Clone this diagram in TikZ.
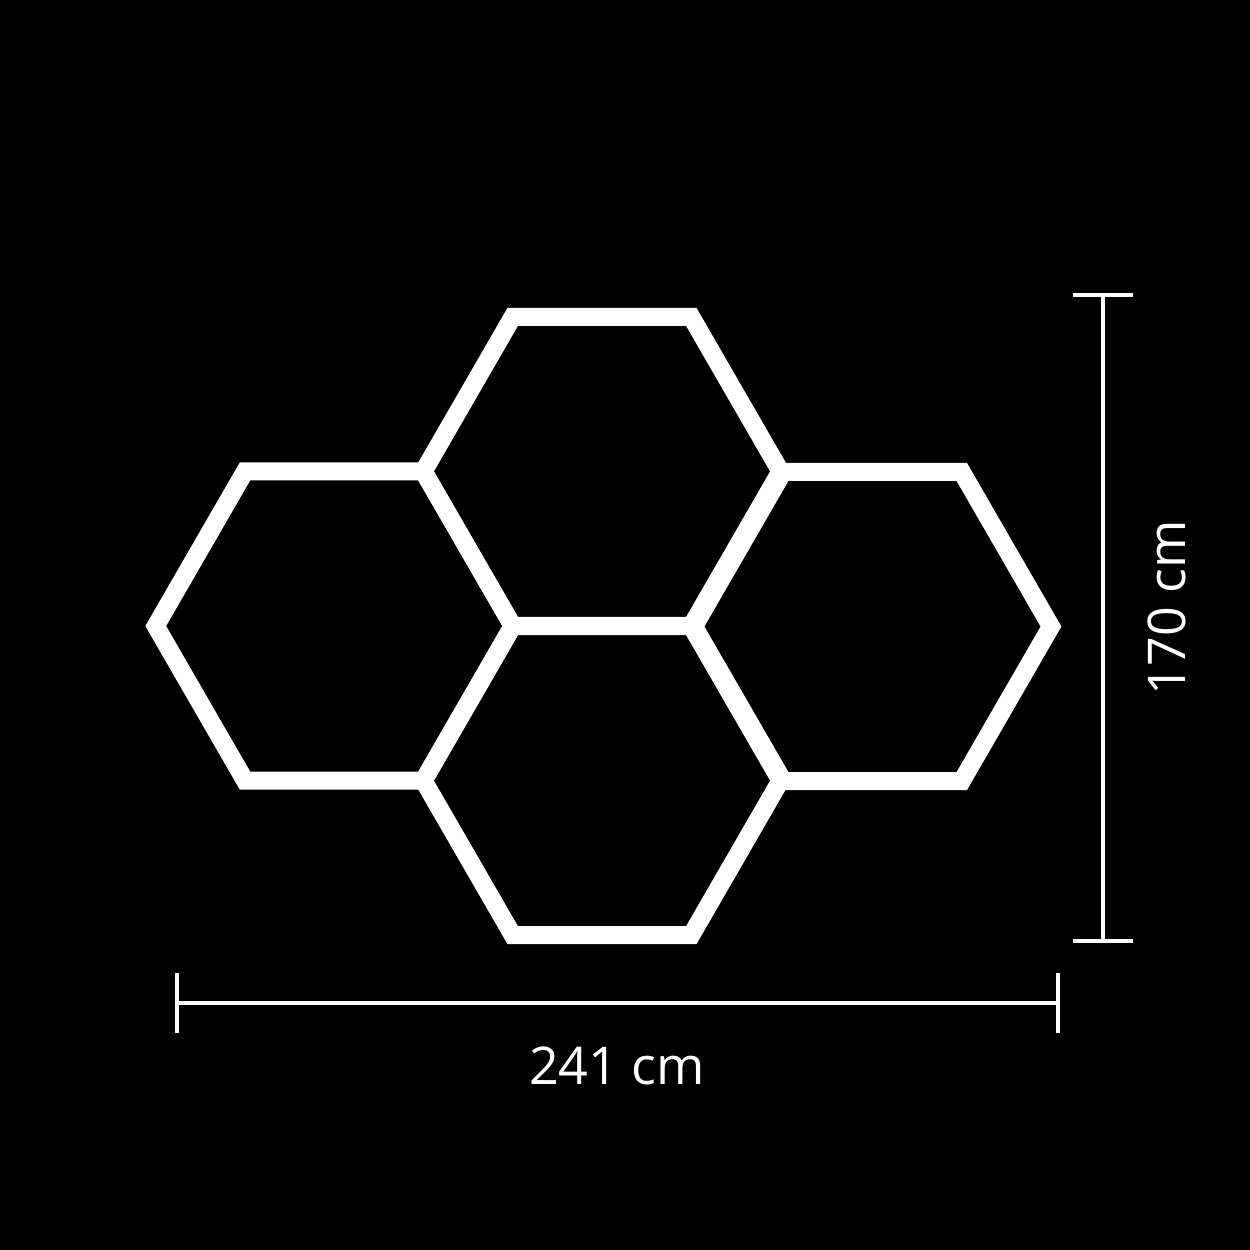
\documentclass[tikz,border=0pt]{standalone}
\usepackage{fontspec}
\setmainfont{Open Sans}
\begin{document}
\begin{tikzpicture}[x=0.5pt,y=-0.5pt,
  hexline/.style={draw=white,line width=9pt,line join=miter},
  dimline/.style={draw=white,line width=2pt},
  dimlabel/.style={text=white,font=\fontsize{26pt}{30pt}\selectfont,inner sep=0pt,anchor=base}]
\fill[black] (0,0) rectangle (1250,1250);
\useasboundingbox (0,0) rectangle (1250,1250);
% hexagons (flat-top), circumradius 178.5
\foreach \cx/\cy in {602/471.4, 602/780.6, 334.25/626, 872.5/626.5}{
  \draw[hexline,shift={(\cx,\cy)}] (0:178.5) -- (60:178.5) -- (120:178.5) -- (180:178.5) -- (240:178.5) -- (300:178.5) -- cycle;
}
% vertical dimension
\coordinate (vt) at (1103,295);
\coordinate (vb) at (1103,941);
\coordinate (vtl) at (1073,295);
\coordinate (vtr) at (1133,295);
\coordinate (vbl) at (1073,941);
\coordinate (vbr) at (1133,941);
\draw[dimline] (vt) -- (vb);
\draw[dimline] (vtl) -- (vtr);
\draw[dimline] (vbl) -- (vbr);
% horizontal dimension
\coordinate (hl) at (177,1003);
\coordinate (hr) at (1058,1003);
\coordinate (hlt) at (177,973);
\coordinate (hlb) at (177,1033);
\coordinate (hrt) at (1058,973);
\coordinate (hrb) at (1058,1033);
\draw[dimline] (hl) -- (hr);
\draw[dimline] (hlt) -- (hlb);
\draw[dimline] (hrt) -- (hrb);
% labels
\node[dimlabel] (wlabel) at (617,1084) {241 cm};
\node[dimlabel,rotate=90] (hlabel) at (1185,608) {170 cm};
\end{tikzpicture}
\end{document}
